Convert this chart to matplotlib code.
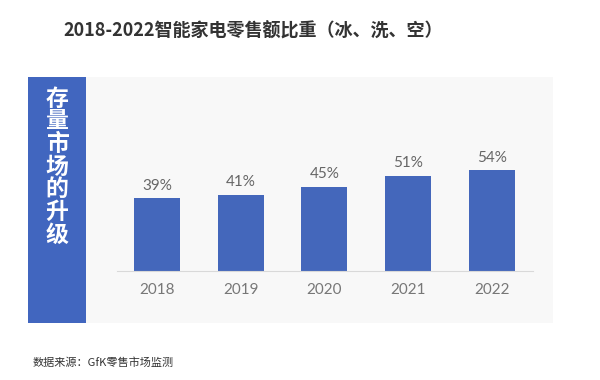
import matplotlib.pyplot as plt
from matplotlib.patches import Rectangle

plt.rcParams["font.family"] = ["Noto Sans CJK SC", "DejaVu Sans"]

# 数据
years = ["2018", "2019", "2020", "2021", "2022"]
shares = [39, 41, 45, 51, 54]
title = "2018-2022智能家电零售额比重（冰、洗、空）"
side_text = "存量市场的升级"
source = "数据来源：GfK零售市场监测"

bar_color = "#4467bb"

fig = plt.figure(figsize=(6, 3.8), dpi=100)
fig.patch.set_facecolor("white")

# 背景面板和左侧蓝条
fig.patches.append(Rectangle((0.047, 0.15), 0.875, 0.647, transform=fig.transFigure,
                             facecolor="#f8f8f8", edgecolor="none", zorder=0))
fig.patches.append(Rectangle((0.047, 0.15), 0.096, 0.647, transform=fig.transFigure,
                             facecolor="#4166bf", edgecolor="none", zorder=1))
fig.text(0.095, 0.56, "\n".join(side_text), color="white", fontsize=16.5,
         fontweight="bold", ha="center", va="center", linespacing=0.98)

fig.text(0.422, 0.918, title, fontsize=13, fontweight="bold", color="#333333",
         ha="center", va="center")
fig.text(0.055, 0.047, source, fontsize=8, color="#333333", ha="left", va="center")

ax = fig.add_axes([0.195, 0.287, 0.693, 0.51])
ax.set_zorder(3)
ax.patch.set_alpha(0)
x = range(len(years))
bars = ax.bar(x, shares, width=0.55, color=bar_color, zorder=2)
for xi, v in zip(x, shares):
    ax.text(xi, v + 3, f"{v}%", ha="center", va="bottom", fontsize=11,
            color="#666666", family=["Lato", "DejaVu Sans"])

ax.set_xlim(-0.48, 4.49)
ax.set_ylim(0, 104)
ax.set_xticks(list(x))
ax.set_xticklabels(years, family=["Lato", "DejaVu Sans"], fontsize=11, color="#777777")
ax.tick_params(axis="x", length=0, pad=9)
ax.set_yticks([])
for s in ["top", "right", "left"]:
    ax.spines[s].set_visible(False)
ax.spines["bottom"].set_color("#d9d9d9")
ax.spines["bottom"].set_linewidth(0.8)

fig.savefig("out.png", dpi=100)
